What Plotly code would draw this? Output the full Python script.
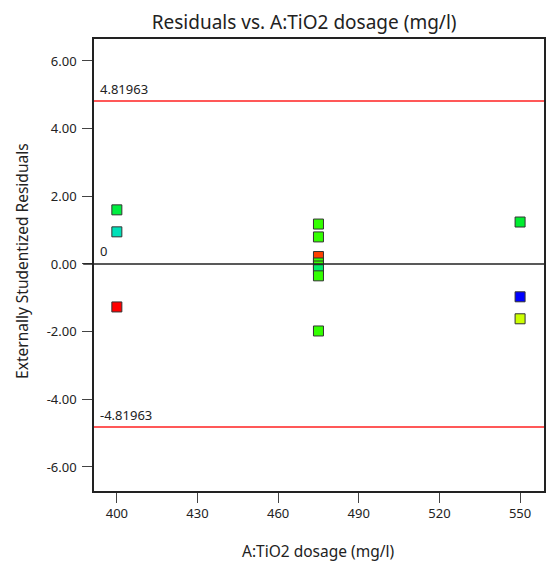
import plotly.graph_objects as go

# Data
x_vals = [400, 400, 400, 475, 475, 475, 475, 475, 475, 475, 475, 550, 550, 550]
resid = [1.60, 0.95, -1.27, 1.18, 0.80, 0.22, 0.03, -0.06, -0.17, -0.35, -1.98, 1.24, -0.97, -1.62]
colors = ["#00ee40", "#00e0b8", "#ff0000", "#33ff00", "#33ff00", "#ff4000", "#33ff00",
          "#33ff00", "#00ee66", "#33ff00", "#33ff00", "#00ee30", "#0000ff", "#ccff00"]
limit = 4.81963
x_ticks = [400, 430, 460, 490, 520, 550]
y_ticks = [-6, -4, -2, 0, 2, 4, 6]
y_tick_text = ["-6.00", "-4.00", "-2.00", "0.00", "2.00", "4.00", "6.00"]

FONT = "Noto Sans"
TXT = "#222222"

fig = go.Figure()
fig.add_trace(go.Scatter(
    x=x_vals, y=resid, mode="markers",
    marker=dict(symbol="square", size=10, color=colors,
                line=dict(color="#333333", width=1)),
    showlegend=False, hoverinfo="x+y"))

# Reference lines
for v, lab in [(limit, "4.81963"), (-limit, "-4.81963")]:
    fig.add_shape(type="line", xref="paper", yref="y", x0=0, x1=1, y0=v, y1=v,
                  line=dict(color="#ff2020", width=1.5))
    fig.add_annotation(xref="paper", yref="y", x=0.008, y=v, text=lab, showarrow=False,
                       xanchor="left", yanchor="bottom", yshift=1,
                       font=dict(family=FONT, size=13, color=TXT))
fig.add_shape(type="line", xref="paper", yref="y", x0=-0.024, x1=1, y0=0, y1=0,
              line=dict(color="#222222", width=1.5))
fig.add_annotation(xref="paper", yref="y", x=0.008, y=0, text="0", showarrow=False,
                   xanchor="left", yanchor="bottom", yshift=2,
                   font=dict(family=FONT, size=13, color=TXT))

# Axis titles as annotations
fig.add_annotation(xref="paper", yref="paper", x=0.497, y=-0.133, text="A:TiO2 dosage (mg/l)",
                   showarrow=False, xanchor="center", yanchor="middle",
                   font=dict(family=FONT, size=15.5, color=TXT))
fig.add_annotation(xref="paper", yref="paper", x=-0.159, y=0.51, text="Externally Studentized Residuals",
                   showarrow=False, textangle=-90, xanchor="center", yanchor="middle",
                   font=dict(family=FONT, size=15.5, color=TXT))

fig.update_layout(
    width=547, height=563,
    margin=dict(l=94, r=1, t=39, b=72),
    paper_bgcolor="white", plot_bgcolor="white",
    title=dict(text="Residuals vs. A:TiO2 dosage (mg/l)", x=0.556, xanchor="center",
               y=0.961, yanchor="middle", font=dict(family=FONT, size=19, color=TXT)),
    font=dict(family=FONT, size=13, color=TXT),
    xaxis=dict(range=[391.5, 558.9], tickvals=x_ticks, ticks="outside", ticklen=10,
               tickcolor="#444", showline=True, linecolor="#222", linewidth=1.5, mirror=True,
               showgrid=False, zeroline=False, tickfont=dict(size=13)),
    yaxis=dict(range=[-6.71, 6.65], tickvals=y_ticks, ticktext=y_tick_text, ticks="outside",
               ticklen=10, tickcolor="#444", showline=True, linecolor="#222", linewidth=1.5,
               mirror=True, showgrid=False, zeroline=False, tickfont=dict(size=13),
               ticklabelstandoff=3),
)

fig.write_html("out.html", config={"displayModeBar": False},
               post_script="document.body.style.margin='0';")
